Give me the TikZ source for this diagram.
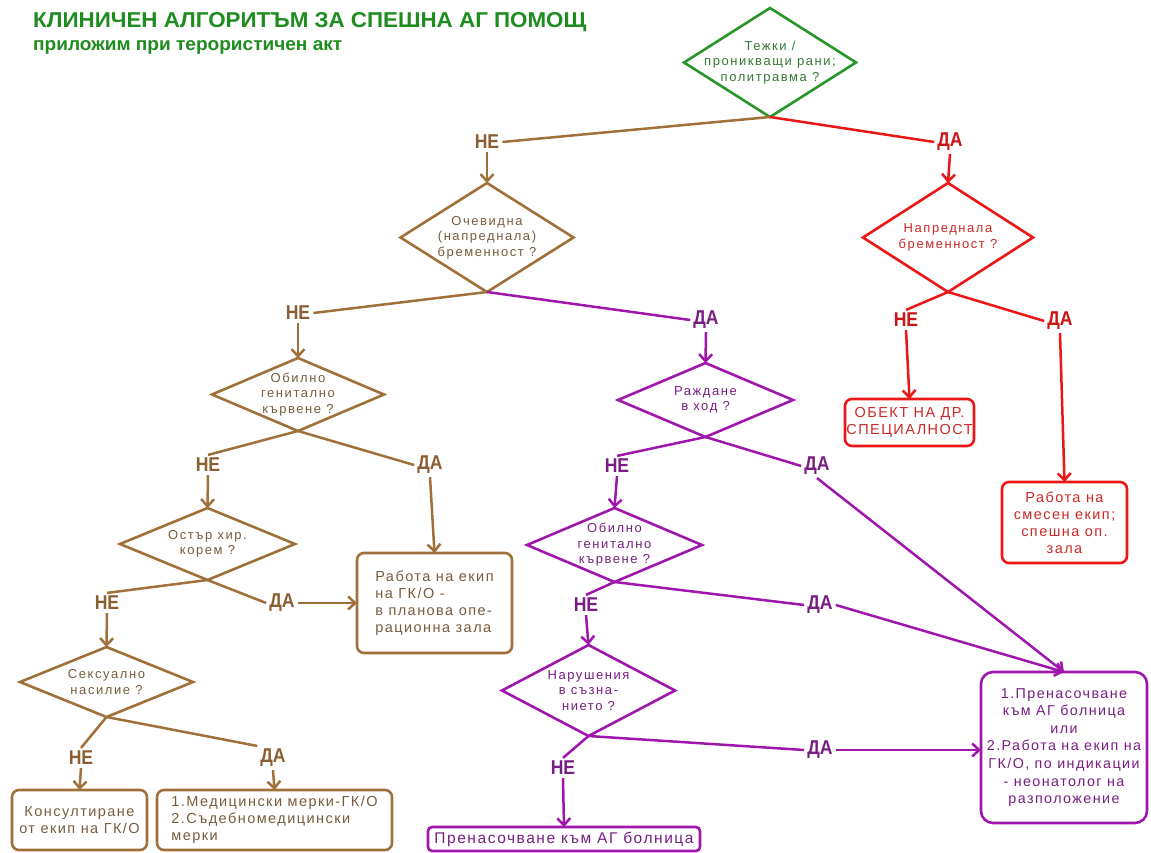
\documentclass[tikz,border=0pt]{standalone}
\usepackage{fontspec}
\setmainfont{Liberation Sans}
\newfontfamily\dfont{Liberation Sans}[LetterSpace=12]
\newfontfamily\bfontn{Liberation Sans}[LetterSpace=10]
\newfontfamily\lfont{Liberation Sans}[FakeStretch=0.88]
\newfontfamily\tfont{Liberation Sans}[FakeStretch=1.04]
\newfontfamily\sfont{Liberation Sans}[FakeStretch=1.03]
\usetikzlibrary{shapes.geometric,arrows.meta}
\definecolor{tgreen}{RGB}{30,140,30}
\definecolor{dgreen}{RGB}{40,150,40}
\definecolor{dgreentxt}{RGB}{55,120,55}
\definecolor{brn}{RGB}{160,112,58}
\definecolor{brntxt}{RGB}{120,92,62}
\definecolor{brnlab}{RGB}{140,95,50}
\definecolor{rd}{RGB}{235,22,22}
\definecolor{rdtxt}{RGB}{205,40,40}
\definecolor{rdlab}{RGB}{205,20,20}
\definecolor{prp}{RGB}{160,22,172}
\definecolor{prptxt}{RGB}{120,30,130}
\definecolor{prplab}{RGB}{120,30,130}
\tikzset{
  dia/.style={diamond, draw, line width=2.6pt, inner sep=0pt, outer sep=0pt},
  dtxt/.style={font=\dfont\fontsize{13}{15.5}\selectfont, align=center, inner sep=0pt},
  boxn/.style={draw, rounded corners=7pt, line width=2.6pt, inner sep=0pt, outer sep=0pt,
    font=\bfontn\fontsize{14.5}{17}\selectfont, align=center},
  lab/.style={font=\lfont\bfseries\fontsize{20}{20}\selectfont, inner sep=3pt},
  conn/.style={line width=2.5pt},
  arr/.style={line width=2.5pt, -{Straight Barb[length=7pt,width=13pt]}}
}
\begin{document}
\begin{tikzpicture}[x=1pt,y=-1pt]
\path[use as bounding box, fill=white] (0,0) rectangle (1151,853);

% title
\node[anchor=west, inner sep=0pt, text=tgreen, font=\tfont\bfseries\fontsize{21.5}{21.5}\selectfont] (t1) at (33,22) {КЛИНИЧЕН АЛГОРИТЪМ ЗА СПЕШНА АГ ПОМОЩ};
\node[anchor=west, inner sep=0pt, text=tgreen, font=\sfont\bfseries\fontsize{18.5}{18.5}\selectfont] (t2) at (33,47) {приложим при терористичен акт};

% diamonds
\node[dia, draw=dgreen, minimum width=172pt, minimum height=109pt,
  label={[dtxt,text=dgreentxt]center:{Тежки /\\проникващи рани;\\политравма ?}}] (q1) at (770,62.5) {};
\node[dia, draw=brn, minimum width=173pt, minimum height=109pt,
  label={[dtxt,text=brntxt]center:{Очевидна\\(напреднала)\\бременност ?}}] (q2) at (487,237.5) {};
\node[dia, draw=rd, minimum width=170pt, minimum height=109pt,
  label={[dtxt,text=rdtxt]center:{Напреднала\\бременност ?}}] (q3) at (948,237.5) {};
\node[dia, draw=brn, minimum width=172pt, minimum height=73pt,
  label={[dtxt,text=brntxt]center:{Обилно\\генитално\\кървене ?}}] (q4) at (298,394.5) {};
\node[dia, draw=brn, minimum width=175pt, minimum height=72pt,
  label={[dtxt,text=brntxt]center:{Остър хир.\\корем ?}}] (q5) at (207.5,544) {};
\node[dia, draw=brn, minimum width=173pt, minimum height=70pt,
  label={[dtxt,text=brntxt]center:{Сексуално\\насилие ?}}] (q6) at (106.5,682) {};
\node[dia, draw=prp, minimum width=175pt, minimum height=74pt,
  label={[dtxt,text=prptxt]center:{Раждане\\в ход ?}}] (q7) at (705.5,400) {};
\node[dia, draw=prp, minimum width=175pt, minimum height=74pt,
  label={[dtxt,text=prptxt]center:{Обилно\\генитално\\кървене ?}}] (q8) at (614.5,545) {};
\node[dia, draw=prp, minimum width=173pt, minimum height=91pt,
  label={[dtxt,text=prptxt]center:{Нарушения\\в съзна-\\нието ?}}] (q9) at (588.5,690.5) {};

% boxes
\node[boxn, draw=rd, text=rdtxt, minimum width=129pt, minimum height=47pt] (bo) at (909.5,422.5) {ОБЕКТ НА ДР.\\СПЕЦИАЛНОСТ};
\node[boxn, draw=rd, text=rdtxt, minimum width=125pt, minimum height=81pt] (bs) at (1064.5,522.5) {Работа на\\смесен екип;\\спешна оп.\\зала};
\node[boxn, draw=brn, text=brntxt, align=left, minimum width=155pt, minimum height=100pt] (bg) at (434.5,603) {Работа на екип\\на ГК/О -\\в планова опе-\\рационна зала};
\node[boxn, draw=brn, text=brntxt, minimum width=135pt, minimum height=60pt] (bk) at (79.5,820) {Консултиране\\от екип на ГК/О};
\node[boxn, draw=brn, text=brntxt, align=left, minimum width=235pt, minimum height=60pt] (bm) at (274.5,820) {1.Медицински мерки-ГК/О\\2.Съдебномедицински\\мерки};
\node[boxn, draw=prp, text=prptxt, rounded corners=4pt, minimum width=272pt, minimum height=24pt,
  font=\bfontn\fontsize{15.5}{17}\selectfont] (bp) at (564,839) {Пренасочване към АГ болница};
\node[boxn, draw=prp, text=prptxt, rounded corners=12pt, minimum width=166pt, minimum height=151pt,
  font=\bfontn\fontsize{14.3}{17.6}\selectfont] (big) at (1064,747.5) {1.Пренасочване\\към АГ болница\\или\\2.Работа на екип на\\ГК/О, по индикации\\- неонатолог на\\разположение};

% labels
\node[lab, text=brnlab] (n1) at (487,142) {НЕ};
\node[lab, text=rdlab] (y1) at (950,142) {ДА};
\node[lab, text=brnlab] (n2) at (298,313) {НЕ};
\node[lab, text=prplab] (y2) at (706,320) {ДА};
\node[lab, text=rdlab] (n3) at (906,320) {НЕ};
\node[lab, text=rdlab] (y3) at (1060,321) {ДА};
\node[lab, text=brnlab] (n4) at (208,465) {НЕ};
\node[lab, text=brnlab] (y4) at (430,465) {ДА};
\node[lab, text=brnlab] (n5) at (107,603) {НЕ};
\node[lab, text=brnlab] (y5) at (282,603) {ДА};
\node[lab, text=brnlab] (n6) at (81,758) {НЕ};
\node[lab, text=brnlab] (y6) at (273,758) {ДА};
\node[lab, text=prplab] (n7) at (617,466) {НЕ};
\node[lab, text=prplab] (y7) at (817,466) {ДА};
\node[lab, text=prplab] (n8) at (586,605) {НЕ};
\node[lab, text=prplab] (y8) at (820,605) {ДА};
\node[lab, text=prplab] (n9) at (563,768) {НЕ};
\node[lab, text=prplab] (y9) at (820,750) {ДА};

% branch lines
\draw[conn, brn] (q1.south) -- (n1.east);
\draw[conn, rd] (q1.south) -- (y1.west);
\draw[conn, brn] (q2.south) -- (n2.east);
\draw[conn, prp] (q2.south) -- (y2.west);
\draw[conn, rd] (q3.south) -- (n3.north);
\draw[conn, rd] (q3.south) -- (y3.west);
\draw[conn, brn] (q4.south) -- (n4.north);
\draw[conn, brn] (q4.south) -- (y4.west);
\draw[conn, brn] (q5.south) -- (n5.north);
\draw[conn, brn] (q5.south) -- (y5.west);
\draw[conn, brn] (q6.south) -- (n6.north);
\draw[conn, brn] (q6.south) -- (y6.north west);
\draw[conn, prp] (q7.south) -- (n7.north);
\draw[conn, prp] (q7.south) -- (y7.west);
\draw[conn, prp] (q8.south) -- (n8.north);
\draw[conn, prp] (q8.south) -- (y8.west);
\draw[conn, prp] (q9.south) -- (n9.north);
\draw[conn, prp] (q9.south) -- (y9.west);

% arrows
\draw[arr, brn] (n1.south) -- (q2.north);
\draw[arr, rd] (y1.south) -- (q3.north);
\draw[arr, brn] (n2.south) -- (q4.north);
\draw[arr, prp] (y2.south) -- (q7.north);
\draw[arr, rd] (n3.south) -- (bo.north);
\draw[arr, rd] (y3.south) -- (bs.north);
\draw[arr, brn] (n4.south) -- (q5.north);
\draw[arr, brn] (y4.south) -- (bg.north);
\draw[arr, brn] (n5.south) -- (q6.north);
\draw[arr, brn] (y5.east) -- (y5.east -| bg.west);
\draw[arr, brn] (n6.south) -- (bk.north);
\draw[arr, brn] (y6.south) -- (bm.north);
\draw[arr, prp] (n7.south) -- (q8.north);
\draw[arr, prp] (y7.south) -- (big.north);
\draw[arr, prp] (n8.south) -- (q9.north);
\draw[arr, prp] (y8.east) -- (big.north);
\draw[arr, prp] (n9.south) -- (bp.north);
\draw[arr, prp] (y9.east) -- (y9.east -| big.west);
\end{tikzpicture}
\end{document}
